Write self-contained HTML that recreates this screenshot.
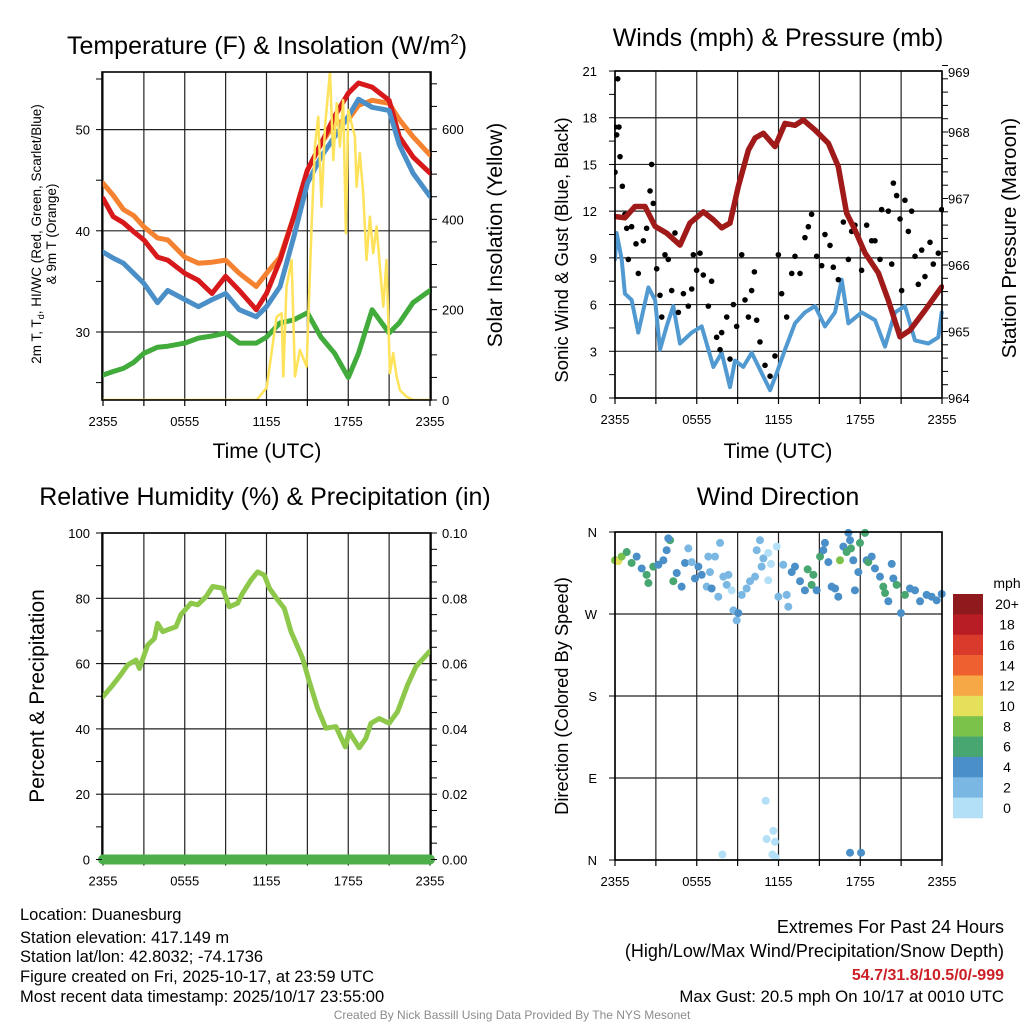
<!DOCTYPE html>
<html><head><meta charset="utf-8"><style>
html,body{margin:0;padding:0;background:#fff;}
svg{display:block;font-family:"Liberation Sans",Arial,sans-serif;}
</style></head><body>
<svg id="chart" width="1024" height="1024" viewBox="0 0 1024 1024" xmlns="http://www.w3.org/2000/svg">
<defs>
<clipPath id="c1"><rect x="102" y="72" width="330" height="328"/></clipPath>
<clipPath id="c2"><rect x="614" y="71" width="330" height="328"/></clipPath>
<clipPath id="c3"><rect x="96" y="533" width="342" height="336"/></clipPath>
<clipPath id="c4"><rect x="610" y="528" width="340" height="338"/></clipPath>
</defs>
<g id="g1"></g>
<g id="g2"></g>
<g id="g3"></g>
<g id="g4"></g>

<text x="267" y="54" font-size="25" text-anchor="middle">Temperature (F) &amp; Insolation (W/m<tspan font-size="15" dy="-10">2</tspan><tspan dy="10">)</tspan></text>
<text x="778" y="46" font-size="25" text-anchor="middle">Winds (mph) &amp; Pressure (mb)</text>
<text x="265" y="505" font-size="25" text-anchor="middle">Relative Humidity (%) &amp; Precipitation (in)</text>
<text x="778" y="505" font-size="25" text-anchor="middle">Wind Direction</text>

<text x="267" y="458" font-size="21" text-anchor="middle">Time (UTC)</text>
<text x="778" y="458" font-size="21" text-anchor="middle">Time (UTC)</text>

<text transform="translate(41,234) rotate(-90)" font-size="13.5" text-anchor="middle">2m T, T<tspan font-size="9" dy="3">d</tspan><tspan dy="-3">, HI/WC (Red, Green, Scarlet/Blue)</tspan></text>
<text transform="translate(56,234) rotate(-90)" font-size="13.5" text-anchor="middle">&amp; 9m T (Orange)</text>
<text transform="translate(502,235) rotate(-90)" font-size="21" text-anchor="middle">Solar Insolation (Yellow)</text>
<text transform="translate(568,250) rotate(-90)" font-size="18.5" text-anchor="middle">Sonic Wind &amp; Gust (Blue, Black)</text>
<text transform="translate(1016,238) rotate(-90)" font-size="20.5" text-anchor="middle">Station Pressure (Maroon)</text>
<text transform="translate(44,696) rotate(-90)" font-size="21" text-anchor="middle">Percent &amp; Precipitation</text>
<text transform="translate(568,696) rotate(-90)" font-size="18.3" text-anchor="middle">Direction (Colored By Speed)</text>

<g font-size="16.5">
<text x="20" y="920">Location: Duanesburg</text>
<text x="20" y="943">Station elevation: 417.149 m</text>
<text x="20" y="962">Station lat/lon: 42.8032; -74.1736</text>
<text x="20" y="982">Figure created on Fri, 2025-10-17, at 23:59 UTC</text>
<text x="20" y="1002">Most recent data timestamp: 2025/10/17 23:55:00</text>
</g>
<g text-anchor="end">
<text x="1004" y="933" font-size="18">Extremes For Past 24 Hours</text>
<text x="1004" y="957" font-size="18">(High/Low/Max Wind/Precipitation/Snow Depth)</text>
<text x="1004" y="980" font-size="16" fill="#cc2027" font-weight="bold">54.7/31.8/10.5/0/-999</text>
<text x="1004" y="1002" font-size="16.8">Max Gust: 20.5 mph On 10/17 at 0010 UTC</text>
</g>
<text x="512" y="1019" font-size="12" fill="#8c8c8c" text-anchor="middle">Created By Nick Bassill Using Data Provided By The NYS Mesonet</text>
</svg>
<script>
// ===== Temperature panel data =====
const tempHours = [0,0.75,1.5,2.25,3,4,4.75,6,7,8,9,10,11.25,12,13,14,15,16,17,18,18.75,19.75,21,21.75,22.75,24];
const tempRed = [43.2,41.4,40.8,39.9,39.1,37.4,37.1,35.8,35.1,33.8,35.5,34.1,32.2,33.8,37.1,41.4,46.0,48.6,51.3,53.6,54.6,54.2,52.9,49.3,47.3,45.7];
const tempOrange = [44.7,43.5,42.1,41.5,40.4,39.3,39.1,37.4,36.8,36.9,37.1,35.8,34.5,35.8,37.4,41.4,46.0,48.6,50.6,51.0,52.4,52.9,52.6,51.0,49.3,47.5];
const tempBlue = [37.9,37.3,36.8,35.8,34.8,32.9,34.1,33.2,32.5,33.2,33.8,32.2,31.5,32.5,34.5,39.4,44.7,47.3,49.3,51.3,53.0,52.2,51.9,48.5,45.7,43.4];
const tempGreen = [25.75,26.1,26.4,27.0,27.9,28.5,28.6,28.9,29.4,29.6,29.9,28.9,28.9,29.5,30.9,31.2,31.9,29.5,27.9,25.5,27.9,32.2,29.9,30.9,32.9,34.1];
const solarHours = [0,11.27,12.01,12.74,13.11,13.23,13.47,13.84,14.09,14.45,14.94,15.31,15.55,15.80,16.04,16.29,16.66,16.9,17.15,17.39,17.63,17.83,18.0,18.24,18.49,18.61,18.85,19.1,19.34,19.59,19.83,20.08,20.32,20.57,20.81,21.06,21.3,21.55,21.79,22.28,22.77,24];
const solarValues = [0,0,27,184,192,52,251,310,52,111,74,384,561,627,428,605,727,531,657,561,664,369,642,613,583,472,547,458,310,406,325,384,295,207,310,59,104,52,22,7,0,0];
const tempTicks = [30,40,50];
const solarTicks = [0,200,400,600];
// ===== Winds panel data =====
const pressHours = [0,0.73,1.47,2.2,2.94,3.79,4.77,5.5,6.48,7.22,7.83,8.44,9.05,9.79,10.28,10.89,11.74,12.48,13.21,13.82,14.68,15.66,16.39,17.0,17.61,18.35,19.33,20.06,20.92,21.65,22.76,23.98];
const pressValues = [966.73,966.71,966.88,966.88,966.58,966.48,966.30,966.63,966.80,966.68,966.56,966.63,967.18,967.73,967.91,967.98,967.78,968.13,968.10,968.18,968.03,967.83,967.48,966.78,966.53,966.18,965.88,965.47,964.92,965.02,965.32,965.67];
const windHours = [0,0.12,0.49,0.73,1.22,1.71,2.45,2.94,3.3,3.79,4.28,4.77,5.63,6.36,7.22,7.83,8.44,8.81,9.42,10.03,10.77,11.38,11.87,12.48,13.21,13.94,14.68,15.41,16.15,16.64,17.13,18.1,19.08,19.82,20.55,21.28,22.02,23.0,23.73,23.98];
const windValues = [8.9,10.6,8.9,6.7,6.3,4.2,7.1,6.3,3.1,4.6,5.9,3.5,4.2,4.6,2.0,2.9,0.7,2.4,2.0,2.9,1.6,0.5,1.6,3.1,4.8,5.5,5.9,4.6,5.5,7.6,4.8,5.5,5.0,3.3,5.5,5.9,3.7,3.5,3.9,5.5];
const gustHours = [0.2,0,0.29,0.12,0,0.37,0.54,0.73,0.86,0.98,1.22,1.54,1.71,2.08,2.32,2.57,2.69,2.81,3.06,3.3,3.43,3.67,3.91,4.16,4.4,4.65,5.02,5.38,5.63,5.75,5.99,6.24,6.48,6.85,7.09,7.46,7.71,7.83,8.2,8.44,8.69,8.93,9.3,9.54,9.79,10.03,10.23,10.4,10.64,11.01,11.38,11.74,11.99,12.23,12.6,12.97,13.21,13.58,13.94,14.19,14.43,14.8,15.17,15.41,15.78,16.02,16.39,16.76,17.13,17.37,17.61,18.1,18.47,18.84,19.08,19.45,19.57,20.06,20.31,20.43,20.67,20.92,21.04,21.28,21.53,21.77,22.02,22.26,22.51,22.75,23.12,23.36,23.73,23.98];
const gustValues = [20.5,17.4,17.4,16.9,14.5,15.5,13.6,11.8,10.9,8.9,11.0,9.9,8.0,10.1,10.9,13.3,15.0,12.5,8.3,6.6,5.2,9.2,8.9,6.9,10.6,5.5,6.7,5.9,7.0,9.2,8.2,9.3,7.9,5.9,7.5,3.9,3.1,4.2,5.2,2.5,6.0,4.6,9.2,6.3,5.2,6.9,8.1,5.0,3.6,2.1,1.4,2.7,9.2,6.7,5.2,8.0,9.1,8.0,10.3,11.0,11.8,9.1,8.5,10.5,9.8,8.4,7.6,11.3,8.9,10.7,11.1,8.2,11.1,10.1,10.1,8.9,12.1,12.0,8.6,13.8,13.0,11.5,6.9,12.7,10.7,12.0,9.1,7.3,9.5,7.8,10.0,8.6,9.3,12.1];
const windTicks = [0,3,6,9,12,15,18,21];
const pressTicks = [964,965,966,967,968,969];
// ===== Humidity panel data =====
const rhHours = [0,0.71,1.2,1.81,2.42,2.67,3.28,3.77,4.01,4.38,5.36,5.72,6.46,6.95,7.56,8.05,8.78,9.27,9.88,10.24,10.86,11.35,11.84,12.21,12.82,13.31,13.8,14.65,15.14,15.75,16.36,17.09,17.78,18.07,18.8,19.29,19.66,20.27,21.0,21.62,22.35,22.96,23.94];
const rhValues = [49.9,53.4,56.0,59.6,61.1,58.5,65.7,67.7,72.3,69.8,71.3,75.0,78.5,78.0,80.5,83.6,83.1,77.4,78.5,81.5,85.6,88.1,87.1,83.1,79.5,76.9,69.8,61.6,54.5,46.3,40.2,40.7,34.5,39.1,34.2,37.1,41.7,43.2,41.7,45.3,53.4,59.0,63.6];
const precipHours = [0,24];
const precipValues = [0,0];
const rhTicks = [0,20,40,60,80,100];
const precipTicks = ["0.00","0.02","0.04","0.06","0.08","0.10"];
// ===== Wind direction data =====
const dirHours = [0,0.24,0.49,0.86,1.22,1.59,1.96,2.32,2.45,2.81,3.18,3.55,3.79,4.04,3.91,4.28,4.53,4.89,5.14,5.38,5.63,5.87,6.12,6.36,6.73,6.85,6.97,7.09,7.34,7.58,7.71,7.95,8.2,8.32,8.56,8.69,8.93,9.05,9.3,9.66,9.91,10.28,10.4,10.64,10.76,10.89,11.25,11.45,11.25,11.87,11.99,12.35,12.6,12.72,12.97,13.21,13.58,13.94,14.14,14.43,14.56,14.8,15.05,15.29,15.41,15.66,15.9,16.15,16.39,16.51,16.76,17.0,17.13,17.25,17.32,17.49,17.61,17.86,17.98,18.35,18.47,18.59,18.84,19.08,19.45,19.69,19.82,20.06,20.31,20.43,20.67,20.99,21.28,21.65,22.02,22.39,22.87,23.24,23.61,23.98,11.06,11.62,11.13,11.74,11.55,11.79,7.88,17.25,18.06];
const dirDegrees = [329,328,333,338,326,333,320,313,304,322,324,329,340,351,353,306,315,300,326,342,327,309,322,313,300,333,316,298,333,289,348,311,302,313,296,274,263,271,291,298,306,311,340,351,322,331,337,325,307,344,289,324,291,278,316,322,306,296,319,302,313,296,333,340,348,327,300,298,289,329,344,338,359,351,342,329,296,316,348,359,329,327,333,320,311,300,293,284,325,309,302,271,291,298,296,284,291,289,285,292,65,32,23,20,6,3,6,8,8];
const dirSpeeds = [8.5,10.5,8.5,7,7,5,5,7,7,7,5,5,5,7,5,7,5,5,5,3,3,5,5,5,3,3,3,5,3,3,3,3,3,3,1,3,3,5,3,3,3,3,3,3,3,3,1,1,1,1,3,3,3,3,5,5,5,5,7,7,7,5,7,5,5,5,5,5,5,9,5,7,5,5,7,5,5,5,7,7,5,7,5,5,5,7,7,5,5,5,7,5,7,5,5,5,5,5,5,5,1,1,1,1,1,1,1,5,5];
const speedLevels = ["0","2","4","6","8","10","12","14","16","18","20+"];
const speedColors = ["#b3e0f7","#7ab8e3","#4a8fc7","#48a670","#7bc24b","#e5e05a","#f5a845","#ee6030","#d93a2b","#b81c24","#8e1a1d"];
const timeLabels = ["2355","0555","1155","1755","2355"];

const NS="http://www.w3.org/2000/svg";
function mk(parent, tag, attrs){const e=document.createElementNS(NS,tag);for(const k in attrs)e.setAttribute(k,attrs[k]);parent.appendChild(e);return e;}
function lineOf(xs,ys){return xs.map((x,i)=>(i?'L':'M')+x.toFixed(1)+','+ys[i].toFixed(1)).join('');}

const x1=t=>103+t*13.625, x2=t=>615+t*13.625;
const yTemp=v=>332-(v-30)*10.12, ySol=v=>400-v*0.4517;
const yWind=v=>398-v*15.57, yPress=v=>398-(v-964)*66.5;
const yRH=v=>859.5-v*3.265, yPrec=v=>859.5-v*3265;
const yDir=v=>860-v*0.9111;

function frame(g,L,R,T,B,xf,hLines){
  for(let h=0;h<=24;h+=3){
    const gl=mk(g,'line',{x1:xf(h),x2:xf(h),y1:T,y2:B,stroke:'#222','stroke-width':1.2});
    
    
    const tk=mk(g,'line',{x1:xf(h),x2:xf(h),y1:B,y2:B+6,stroke:'#000','stroke-width':1.2});
    
    
  }
  hLines.forEach(y=>{
    const hl=mk(g,'line',{x1:L,x2:R,y1:y,y2:y,stroke:'#222','stroke-width':1.2});
    
    
  });
  timeLabels.forEach((s,i)=>{
    const t=mk(g,'text',{x:xf(i*6),y:B+26,'font-size':13,'text-anchor':'middle'});t.textContent=s;
    
    
  });
}
function border(g,L,R,T,B){
  const r=mk(g,'rect',{x:L,y:T,width:R-L,height:B-T,fill:'none',stroke:'#000','stroke-width':1.6});
  
  
}
function ticksY(g,x,vals,yf,dir,len){vals.forEach(v=>{const t=mk(g,'line',{x1:x,x2:x+dir*len,y1:yf(v),y2:yf(v),stroke:'#000','stroke-width':1});
  
  });}
function labelsY(g,x,vals,labels,yf,anchor){vals.forEach((v,i)=>{const t=mk(g,'text',{x:x,y:yf(v)+5,'font-size':13,'text-anchor':anchor});t.textContent=labels[i];
  
  });}
function series(g,clip,xs,ys,color,w,name){const p=mk(g,'path',{d:lineOf(xs,ys),fill:'none',stroke:color,'stroke-width':w,'stroke-linejoin':'round','stroke-linecap':'round','clip-path':clip});
  
  return p;}

// ---- Panel 1 ----
const g1=document.getElementById('g1');
frame(g1,102,431,72,400,x1,tempTicks.map(yTemp));
series(g1,'url(#c1)',tempHours.map(x1),tempOrange.map(yTemp),'#f58231',5,'9m-temperature-line');
series(g1,'url(#c1)',tempHours.map(x1),tempRed.map(yTemp),'#d7191c',5,'2m-temperature-line');
series(g1,'url(#c1)',tempHours.map(x1),tempBlue.map(yTemp),'#4a8fc7',5,'wind-chill-line');
series(g1,'url(#c1)',tempHours.map(x1),tempGreen.map(yTemp),'#41ab3c',5,'dewpoint-line');
series(g1,'url(#c1)',solarHours.map(x1),solarValues.map(ySol),'#fde25a',2.5,'solar-insolation-line');
border(g1,102,431,72,400);
ticksY(g1,102,[25,30,35,40,45,50,55],yTemp,-1,6);
labelsY(g1,90,tempTicks,tempTicks.map(String),yTemp,'end');
ticksY(g1,431,[0,50,100,150,200,250,300,350,400,450,500,550,600,650,700],ySol,1,6);
labelsY(g1,442,solarTicks,solarTicks.map(String),ySol,'start');

// ---- Panel 2 ----
const g2=document.getElementById('g2');
frame(g2,615,942,71,398,x2,windTicks.map(yWind));
series(g2,'url(#c2)',windHours.map(x2),windValues.map(yWind),'#5199d1',4,'sonic-wind-line');
gustHours.forEach((h,i)=>{const c=mk(g2,'circle',{cx:x2(h),cy:yWind(gustValues[i]),r:2.8,fill:'#000','clip-path':'url(#c2)'});
  
  });
series(g2,'url(#c2)',pressHours.map(x2),pressValues.map(yPress),'#a01a1a',5.5,'station-pressure-line');
border(g2,615,942,71,398);
const minorW=[];for(let v=0;v<=21;v+=1.5)minorW.push(v);
ticksY(g2,615,minorW,yWind,-1,6);
labelsY(g2,597,windTicks,windTicks.map(String),yWind,'end');
const minorP=[];for(let v=964;v<=969.01;v+=0.2)minorP.push(v);
ticksY(g2,942,minorP,yPress,1,6);
labelsY(g2,948,pressTicks,pressTicks.map(String),v=>Math.max(yPress(v),72),'start');

// ---- Panel 3 ----
const g3=document.getElementById('g3');
frame(g3,102,431,533,859.5,x1,rhTicks.map(yRH));
series(g3,'url(#c3)',rhHours.map(x1),rhValues.map(yRH),'#8dc84b',5,'relative-humidity-line');
border(g3,102,431,533,859.5);
series(g3,'url(#c3)',precipHours.map(x1),precipValues.map(yPrec),'#4daf4a',10,'precipitation-line');
ticksY(g3,102,[0,10,20,30,40,50,60,70,80,90,100],yRH,-1,6);
labelsY(g3,90,rhTicks,rhTicks.map(String),yRH,'end');
ticksY(g3,431,[0,5,10,15,20,25,30,35,40,45,50,55,60,65,70,75,80,85,90,95,100],yRH,1,6);
labelsY(g3,442,rhTicks,precipTicks,yRH,'start');

// ---- Panel 4 ----
const g4=document.getElementById('g4');
const dirTicks=[0,90,180,270,360], dirLabels=["N","E","S","W","N"];
frame(g4,615,942,532,860,x2,dirTicks.map(yDir));
dirHours.forEach((h,i)=>{
  const s=dirSpeeds[i];const k=Math.min(10,Math.floor(s/2));
  const c=mk(g4,'circle',{cx:x2(h),cy:yDir(dirDegrees[i]),r:4,fill:speedColors[k],'clip-path':'url(#c4)'});
  
  
});
border(g4,615,942,532,860);
ticksY(g4,615,dirTicks,yDir,-1,6);
labelsY(g4,597,dirTicks,dirLabels,yDir,'end');
const cb=mk(g4,'g',{});


const mph=mk(cb,'text',{x:1007,y:588,'font-size':14,'text-anchor':'middle'});mph.textContent='mph';


const bh=224/11;
for(let i=0;i<11;i++){
  const k=10-i;const y=594+i*bh;
  const r=mk(cb,'rect',{x:953,y:y,width:30,height:bh+0.3,fill:speedColors[k]});
  
  
  const t=mk(cb,'text',{x:1007,y:y+bh/2+5,'font-size':14,'text-anchor':'middle'});t.textContent=speedLevels[k];
  
  
}
</script>
</body></html>
